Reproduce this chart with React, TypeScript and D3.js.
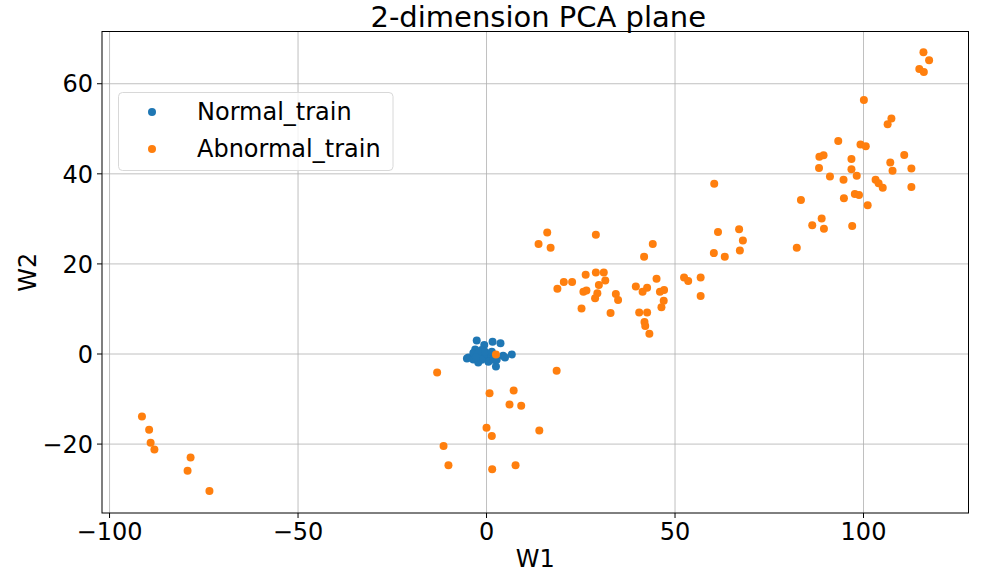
import React from "react";
import * as d3 from "d3";

const normalX = [-2.6, -0.6, 1.6, 3.7, -3.0, -1.3, -4.8, -3.5, -2.2, 0.0, 0.9, 2.5, 4.4, 6.7, 4.9, 2.7, 0.5, -0.8, -3.5, -2.2, -0.4, 1.4, 1.8, -5.2, -1.3, -2.8];
const normalY = [3.0, 2.0, 2.7, 2.4, 1.0, 0.9, -0.8, -1.2, -1.9, -1.0, -0.6, -2.8, -0.4, -0.1, -0.8, -1.3, -1.7, -0.2, 0.2, 0.2, 0.5, 0.5, -1.3, -1.0, -1.3, -0.7];

const abnormalX = [
  2.5, -13.1, 18.6, 0.8, 7.2, 6.1, 9.2, 0.0, 1.4, 14.0, -11.4, -10.1, 1.5, 7.7,
  -91.4, -89.5, -89.1, -88.1, -78.5, -79.3, -73.5,
  16.1, 13.8, 17.0, 29.0, 44.1, 41.8, 26.3, 29.0, 31.1, 31.5, 29.8, 20.5, 22.7, 18.8, 25.7, 26.5, 29.4, 28.8, 34.3, 34.9, 25.2, 32.9, 39.6, 42.6, 41.4, 45.1, 46.0, 47.1, 47.0, 46.4, 40.5, 42.6, 41.9, 42.1, 43.2, 52.4, 53.5,
  60.4, 61.4, 67.0, 68.0, 67.2, 60.3, 63.2, 56.8, 56.8,
  115.9, 117.4, 114.8, 116.0, 100.1, 107.4, 106.4, 93.3, 99.2, 100.6, 110.8, 88.3, 89.4, 96.8, 107.1, 107.7, 112.7, 88.2, 96.8, 98.2, 91.1, 94.7, 103.2, 104.0, 105.1, 112.7, 97.7, 98.8, 94.8, 101.1, 83.4, 88.9, 86.4, 89.5, 97.0, 82.3,
];
const abnormalY = [
  -0.1, -4.1, -3.7, -8.7, -8.1, -11.2, -11.5, -16.4, -18.2, -17.0, -20.4, -24.7, -25.6, -24.7,
  -13.9, -16.8, -19.7, -21.2, -23.0, -25.9, -30.4,
  27.0, 24.4, 23.6, 26.5, 24.4, 21.6, 17.6, 18.1, 18.1, 16.3, 15.3, 16.0, 16.0, 14.5, 13.8, 14.1, 13.5, 12.4, 13.3, 12.0, 10.1, 9.1, 15.0, 14.7, 13.8, 16.7, 13.8, 14.2, 11.8, 10.4, 9.2, 9.2, 7.1, 6.2, 4.5, 17.0, 16.2,
  37.8, 27.1, 27.7, 25.2, 23.0, 22.4, 21.6, 17.0, 12.9,
  67.0, 65.2, 63.3, 62.6, 56.4, 52.3, 51.0, 47.3, 46.5, 46.1, 44.2, 43.8, 44.1, 43.3, 42.5, 40.7, 41.2, 41.3, 41.0, 39.6, 39.4, 38.7, 38.7, 37.9, 36.9, 37.1, 35.5, 35.3, 34.6, 33.0, 34.2, 30.1, 28.6, 27.8, 28.4, 23.6,
];

const xTicks = [-100, -50, 0, 50, 100];
const yTicks = [-20, 0, 20, 40, 60];
const seriesNames = ["Normal_train", "Abnormal_train"];
const seriesColors = ["#1f77b4", "#ff7f0e"];

const W = 998;
const H = 575;
const L = 102, R = 968.5, T = 31.5, B = 513;
const FONT = "DejaVu Sans, sans-serif";

const fmt = (t: number) => (t < 0 ? "\u2212" + Math.abs(t) : String(t));

export default function App() {
  const x = d3.scaleLinear().domain([-102.0, 127.85]).range([L, R]);
  const y = d3.scaleLinear().domain([-35.3, 71.6]).range([B, T]);
  const normal = normalX.map((v, i) => [v, normalY[i]]);
  const abnormal = abnormalX.map((v, i) => [v, abnormalY[i]]);

  return (
    <svg width={W} height={H} style={{ position: "absolute", left: 0, top: 0, background: "#fff" }}>
      <rect x={0} y={0} width={W} height={H} fill="#fff" />
      {xTicks.map((t) => (
        <line key={"gx" + t} x1={x(t)} x2={x(t)} y1={T} y2={B} stroke="#b0b0b0" strokeWidth={0.8} />
      ))}
      {yTicks.map((t) => (
        <line key={"gy" + t} x1={L} x2={R} y1={y(t)} y2={y(t)} stroke="#b0b0b0" strokeWidth={0.8} />
      ))}
      {normal.map((p, i) => (
        <circle key={"n" + i} cx={x(p[0])} cy={y(p[1])} r={4} fill={seriesColors[0]} />
      ))}
      {abnormal.map((p, i) => (
        <circle key={"a" + i} cx={x(p[0])} cy={y(p[1])} r={4} fill={seriesColors[1]} />
      ))}
      <rect x={L} y={T} width={R - L} height={B - T} fill="none" stroke="#000" strokeWidth={1} />
      {xTicks.map((t) => (
        <g key={"tx" + t}>
          <line x1={x(t)} x2={x(t)} y1={B} y2={B + 5} stroke="#000" strokeWidth={1} />
          <text x={x(t)} y={B + 27} textAnchor="middle" fontSize={24} fontFamily={FONT} fill="#000">
            {fmt(t)}
          </text>
        </g>
      ))}
      {yTicks.map((t) => (
        <g key={"ty" + t}>
          <line x1={L - 5} x2={L} y1={y(t)} y2={y(t)} stroke="#000" strokeWidth={1} />
          <text x={L - 9} y={y(t) + 8.7} textAnchor="end" fontSize={24} fontFamily={FONT} fill="#000">
            {fmt(t)}
          </text>
        </g>
      ))}
      <text x={(L + R) / 2} y={567} textAnchor="middle" fontSize={24} fontFamily={FONT} fill="#000">W1</text>
      <text transform={`translate(36,${(T + B) / 2}) rotate(-90)`} textAnchor="middle" fontSize={24} fontFamily={FONT} fill="#000">W2</text>
      <text x={(L + R) / 2 + 3} y={27} textAnchor="middle" fontSize={29} fontFamily={FONT} fill="#000">2-dimension PCA plane</text>
      <rect x={118.5} y={92.5} width={274.5} height={78} rx={4} fill="#fff" fillOpacity={0.8} stroke="#d8d8d8" strokeWidth={1} />
      {seriesNames.map((s, i) => (
        <g key={s}>
          <circle cx={152} cy={112 + i * 37} r={4} fill={seriesColors[i]} />
          <text x={197} y={120 + i * 37} fontSize={24} fontFamily={FONT} fill="#000">{s}</text>
        </g>
      ))}
    </svg>
  );
}
